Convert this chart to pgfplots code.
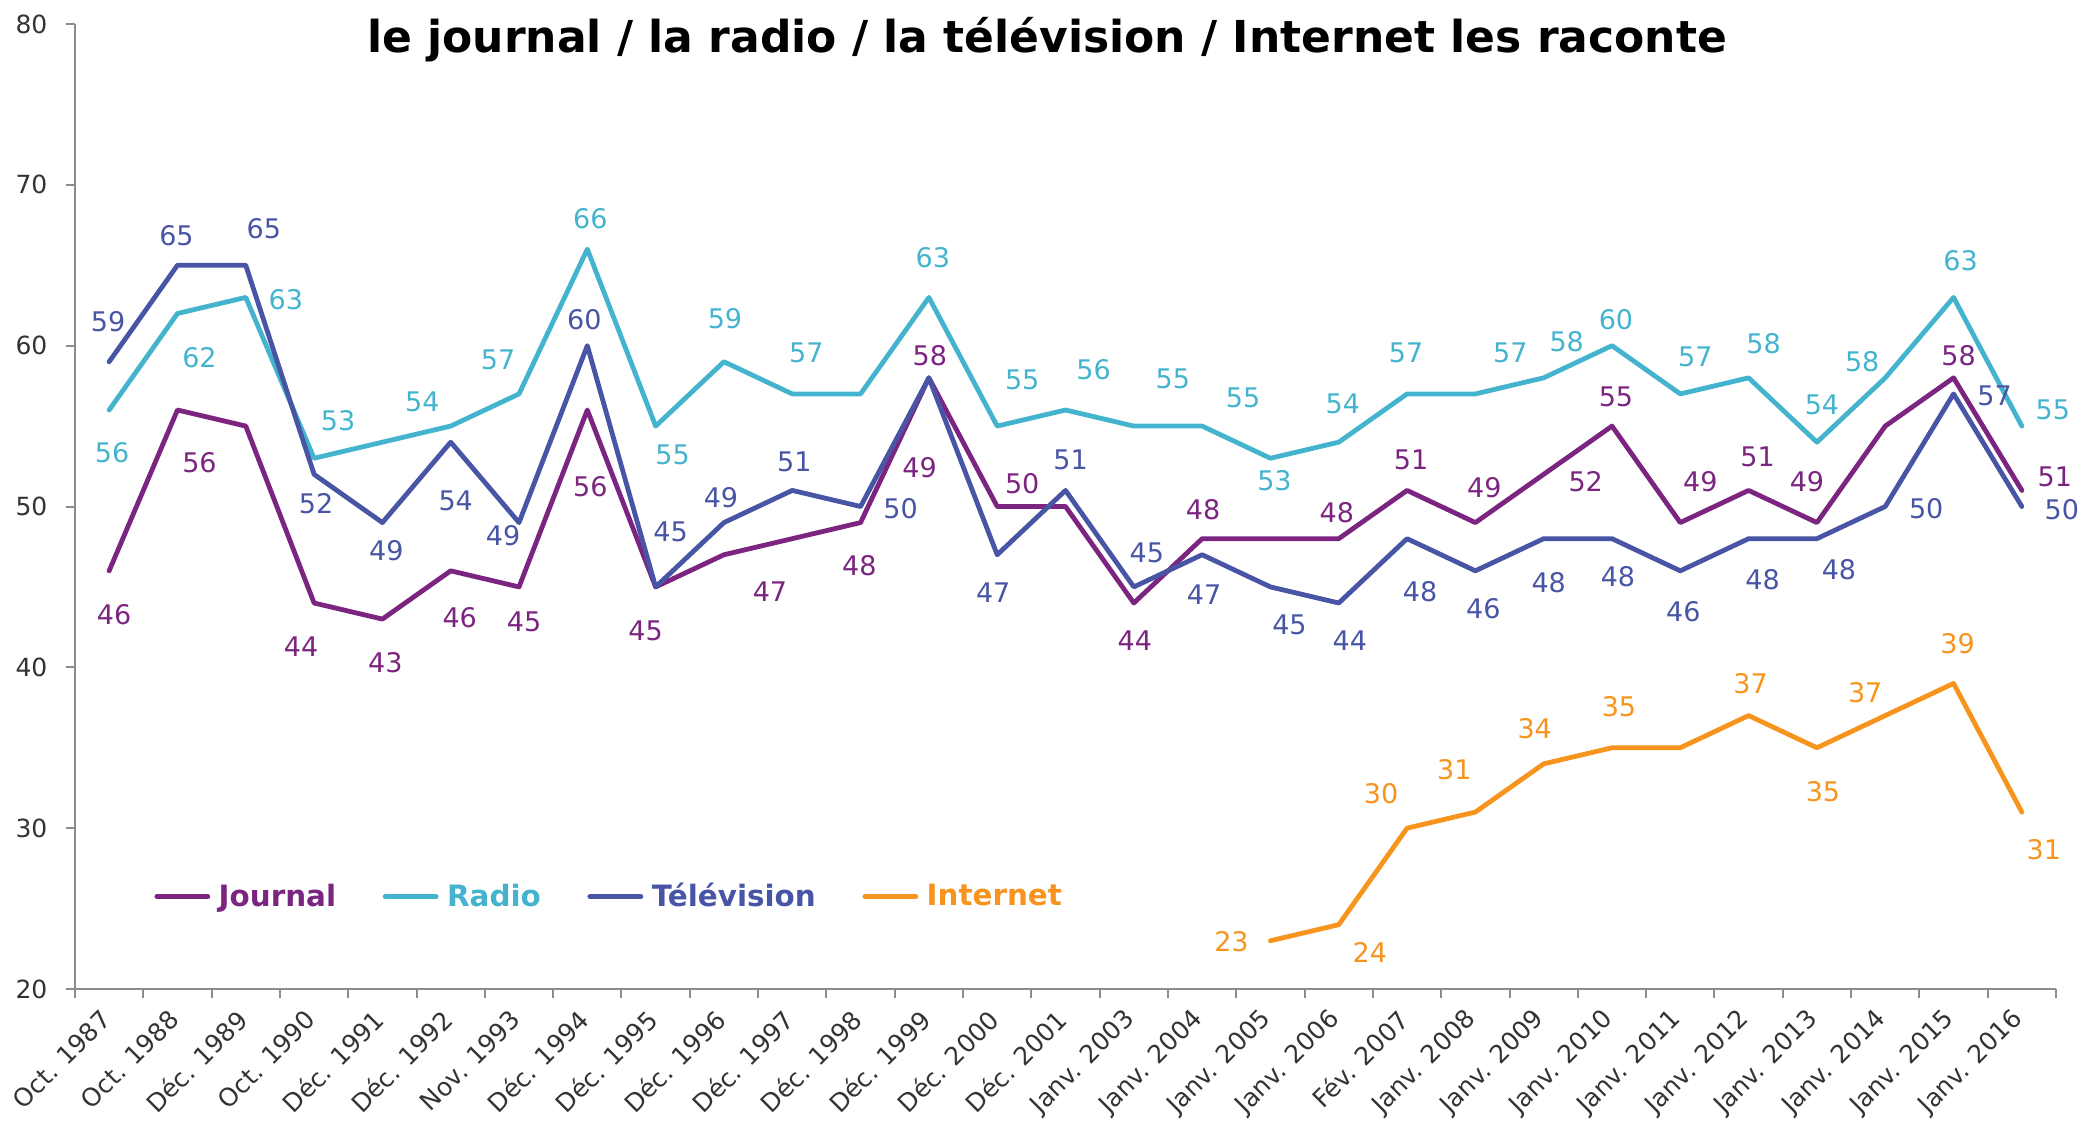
\documentclass[border=0pt]{standalone}
\usepackage{fontspec}
\setmainfont{DejaVu Sans}
\usepackage{pgfplots}
\usepackage{pgfplotstable}
\pgfplotsset{compat=1.18}

\definecolor{cJournal}{RGB}{123,36,128}
\definecolor{cRadio}{RGB}{68,180,206}
\definecolor{cTele}{RGB}{72,85,165}
\definecolor{cInternet}{RGB}{247,148,30}

% x = survey index, y = value, t = label text, dx/dy = label offset (px, dy downwards)
\pgfplotstableread{
x y t dx dy
0 46 46 5 44
1 56 56 22 53
2 55 {} 0 0
3 44 44 -13 44
4 43 43 3 44
5 46 46 9 47
6 45 45 5 35
7 56 56 3 77
8 45 45 -10 44
9 47 47 46 37
10 48 48 67 27
11 49 49 59 -55
12 58 58 1 -22
13 50 50 25 -23
14 50 {} 0 0
15 44 44 1 38
16 48 48 1 -29
17 48 {} 0 0
18 48 48 -2 -26
19 51 51 4 -31
20 49 49 9 -35
21 52 52 42 7
22 55 55 4 -29
23 49 49 20 -41
24 51 51 9 -34
25 49 49 -10 -41
26 55 {} 0 0
27 58 58 5 -22
28 51 51 33 -14
}\journal

\pgfplotstableread{
x y t dx dy
0 56 56 3 43
1 62 62 22 44
2 63 63 40 2
3 53 53 24 -38
4 54 54 40 -40
5 55 {} 0 0
6 57 57 -21 -34
7 66 66 3 -31
8 55 55 17 29
9 59 59 1 -43
10 57 57 14 -41
11 57 {} 0 0
12 63 63 4 -40
13 55 55 25 -46
14 56 56 28 -40
15 55 55 39 -47
16 55 55 41 -28
17 53 53 4 22
18 54 54 4 -38
19 57 57 -1 -41
20 57 57 35 -41
21 58 58 23 -36
22 60 60 4 -26
23 57 57 15 -37
24 58 58 15 -34
25 54 54 5 -37
26 58 58 -23 -16
27 63 63 7 -37
28 55 55 31 -16
}\radio

\pgfplotstableread{
x y t dx dy
0 59 59 -1 -40
1 65 65 -1 -30
2 65 65 18 -37
3 52 52 2 29
4 49 49 4 28
5 54 54 5 59
6 49 49 -16 13
7 60 60 -3 -26
8 45 45 15 -55
9 49 49 -3 -25
10 51 51 2 -29
11 50 50 40 2
12 58 {} 0 0
13 47 47 -4 38
14 51 51 5 -31
15 45 45 13 -34
16 47 47 2 40
17 45 45 19 38
18 44 44 11 38
19 48 48 13 53
20 46 46 8 38
21 48 48 5 44
22 48 48 6 38
23 46 46 3 41
24 48 48 14 41
25 48 48 22 31
26 50 50 41 2
27 57 57 41 2
28 50 50 40 3
}\tele

\pgfplotstableread{
x y t dx dy
17 23 23 -39 1
18 24 24 31 28
19 30 30 -26 -35
20 31 31 -21 -42
21 34 34 -9 -35
22 35 35 7 -41
23 35 {} 0 0
24 37 37 2 -32
25 35 35 6 44
26 37 37 -20 -23
27 39 39 4 -40
28 31 31 22 38
}\internet

\pgfplotsset{
  lbl/.style={
    point meta=explicit symbolic,
    nodes near coords,
    visualization depends on={\thisrow{dx}\as\labdx},
    visualization depends on={\thisrow{dy}\as\labdy},
    nodes near coords style={font=\fontsize{13.5}{16}\selectfont, text=#1,
      anchor=center, inner sep=0pt,
      xshift={0.5pt*(\labdx)}, yshift={-0.5pt*(\labdy)}},
  },
  serie/.style={#1, mark=none, line width=2.4pt, line join=round, line cap=round},
}

\begin{document}
\begin{tikzpicture}
\path[use as bounding box] (-37.5pt,-70.5pt) rectangle (1003pt,494.5pt);
\begin{axis}[
  scale only axis, width=990.5pt, height=482.5pt,
  xmin=-0.5, xmax=28.5, ymin=20, ymax=80,
  axis x line*=bottom, axis y line*=left,
  axis line style={draw=black!45, line width=1pt},
  tick style={draw=black!45, line width=1pt},
  tick align=outside, major tick length=4.5pt,
  xtick={-0.5,0.5,...,28.5}, x tick label as interval,
  xticklabels={Oct. 1987, Oct. 1988, Déc. 1989, Oct. 1990, Déc. 1991, Déc. 1992,
    Nov. 1993, Déc. 1994, Déc. 1995, Déc. 1996, Déc. 1997, Déc. 1998, Déc. 1999,
    Déc. 2000, Déc. 2001, Janv. 2003, Janv. 2004, Janv. 2005, Janv. 2006,
    Fév. 2007, Janv. 2008, Janv. 2009, Janv. 2010, Janv. 2011, Janv. 2012,
    Janv. 2013, Janv. 2014, Janv. 2015, Janv. 2016},
  ytick={20,30,...,80},
  tick label style={font=\fontsize{12.5}{15}\selectfont, text=black!80},
  xticklabel style={rotate=45, anchor=east, inner sep=0pt, xshift=-7.07pt, yshift=-4.95pt},
  yticklabel style={inner sep=0pt, xshift=-9.1pt},
  /pgf/number format/assume math mode=true,
  clip=false,
  title={le journal / la radio / la télévision / Internet les raconte},
  title style={at={(0.4907,0.9482)}, anchor=south, yshift=0pt, inner sep=0pt,
    font=\bfseries\fontsize{22}{26}\selectfont},
  legend style={at={(0.0399,0.0957)}, anchor=west, draw=none, fill=none,
    inner sep=0pt, legend columns=4, cells={anchor=west},
    nodes={inner sep=0pt},
    font=\bfseries\fontsize{14.7}{17}\selectfont,
    /tikz/every odd column/.append style={column sep=4.25pt},
    /tikz/every even column/.append style={column sep=23.3pt}},
  legend image code/.code={\draw[#1] (0pt,0pt) -- (25.5pt,0pt);},
]
\addplot[serie=cJournal, lbl=cJournal, forget plot] table[x=x, y=y, meta=t]{\journal};
\addplot[serie=cRadio, lbl=cRadio, forget plot] table[x=x, y=y, meta=t]{\radio};
\addplot[serie=cTele, lbl=cTele, forget plot] table[x=x, y=y, meta=t]{\tele};
\addplot[serie=cInternet, lbl=cInternet, forget plot] table[x=x, y=y, meta=t]{\internet};

\addlegendimage{serie=cJournal}
\addlegendentry{\textcolor{cJournal}{Journal}}
\addlegendimage{serie=cRadio}
\addlegendentry{\textcolor{cRadio}{Radio}}
\addlegendimage{serie=cTele}
\addlegendentry{\textcolor{cTele}{Télévision}}
\addlegendimage{serie=cInternet}
\addlegendentry{\textcolor{cInternet}{Internet}}
\end{axis}
\end{tikzpicture}
\end{document}
